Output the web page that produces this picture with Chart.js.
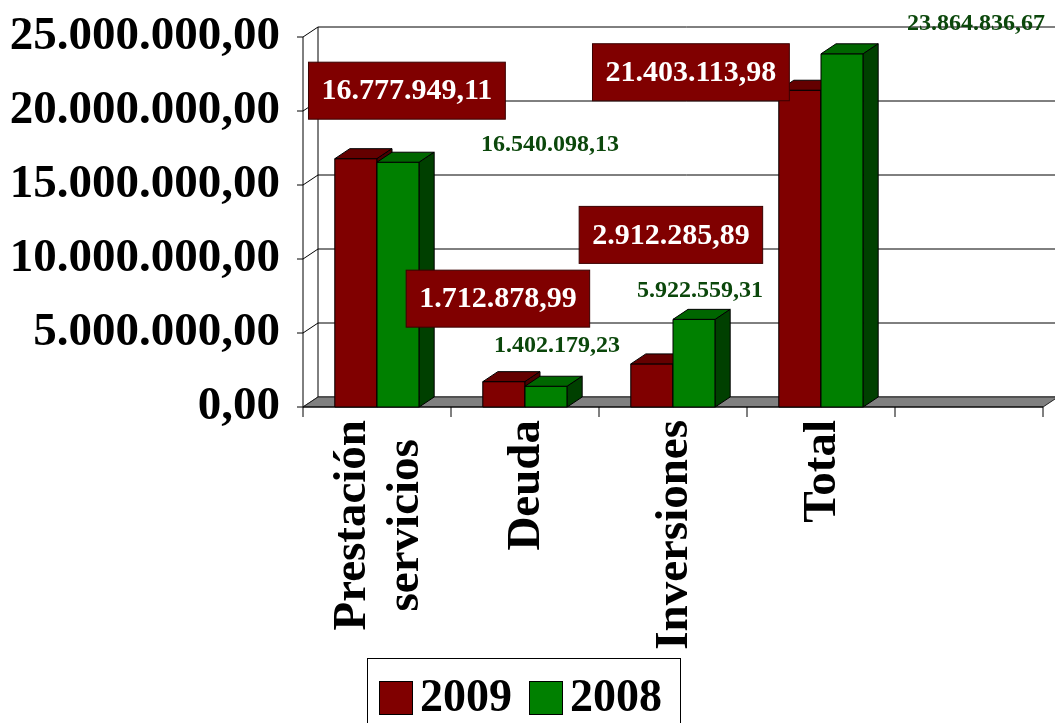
<!DOCTYPE html>
<html>
<head>
<meta charset="utf-8">
<script src="https://cdn.jsdelivr.net/npm/chart.js@4.4.0/dist/chart.umd.min.js"></script>
<style>
  html, body { margin: 0; padding: 0; background: #fff; }
  #wrap { width: 1055px; height: 723px; }
</style>
</head>
<body>
<div id="wrap"><canvas id="chart"></canvas></div>
<script>
// data
const categories = [["Prestación", "servicios"], ["Deuda"], ["Inversiones"], ["Total"], [""]];
const values2009 = [16777949.11, 1712878.99, 2912285.89, 21403113.98, null];
const values2008 = [16540098.13, 1402179.23, 5922559.31, 23864836.67, null];
const seriesNames = ["2009", "2008"];
const yTicks = [0, 5000000, 10000000, 15000000, 20000000, 25000000];

// where each value label sits, relative to the top of its bar
const labelOffsets2009 = [[51, -68], [-6, -83], [19, -129], [-109, -18]];
const labelOffsets2008 = [[152, -17], [11, -40], [6, -29], [134, -30]];

const FONT = "'Liberation Serif', 'Times New Roman', serif";
const DX = 15, DY = -10; // depth of the 3d effect

// 16777949.11 -> "16.777.949,11"
function fmt(v) {
  const parts = v.toFixed(2).split(".");
  return parts[0].replace(/\B(?=(\d{3})+(?!\d))/g, ".") + "," + parts[1];
}

function poly(ctx, pts, fill) {
  ctx.beginPath();
  ctx.moveTo(pts[0][0], pts[0][1]);
  for (let i = 1; i < pts.length; i++) ctx.lineTo(pts[i][0], pts[i][1]);
  ctx.closePath();
  ctx.fillStyle = fill;
  ctx.fill();
  ctx.stroke();
}

const threeD = {
  id: "threeD",
  beforeDatasetsDraw(chart) {
    const { ctx, chartArea: a, scales: { x, y } } = chart;
    ctx.save();
    ctx.lineWidth = 1;
    ctx.strokeStyle = "#000";

    // back wall grid + left wall diagonals + ticks
    yTicks.forEach((v) => {
      const py = y.getPixelForValue(v);
      ctx.beginPath();
      ctx.moveTo(a.left - 6, py);
      ctx.lineTo(a.left, py);
      ctx.lineTo(a.left + DX, py + DY);
      ctx.lineTo(chart.width, py + DY);
      ctx.stroke();
    });
    ctx.beginPath();
    ctx.moveTo(a.left, y.getPixelForValue(yTicks[yTicks.length - 1]));
    ctx.lineTo(a.left, a.bottom);
    ctx.moveTo(a.left + DX, a.top + DY);
    ctx.lineTo(a.left + DX, a.bottom + DY);
    ctx.stroke();

    // floor
    ctx.strokeStyle = "#222";
    poly(ctx, [[a.left, a.bottom], [a.right, a.bottom], [a.right + DX, a.bottom + DY], [a.left + DX, a.bottom + DY]], "#808080");

    // category ticks under the floor
    ctx.strokeStyle = "#000";
    const half = (x.getPixelForValue(1) - x.getPixelForValue(0)) / 2;
    ctx.beginPath();
    ctx.moveTo(a.left, a.bottom);
    ctx.lineTo(a.right, a.bottom);
    for (let i = 0; i <= categories.length; i++) {
      const px = x.getPixelForValue(0) - half + i * half * 2;
      ctx.moveTo(px, a.bottom);
      ctx.lineTo(px, a.bottom + 10);
    }
    ctx.stroke();
    ctx.restore();
  },
  afterDatasetsDraw(chart) {
    const { ctx } = chart;
    ctx.save();
    ctx.lineWidth = 1;
    ctx.strokeStyle = "#000";
    for (let i = 0; i < categories.length; i++) {
      chart.data.datasets.forEach((ds, di) => {
        if (ds.data[i] == null) return;
        const el = chart.getDatasetMeta(di).data[i];
        const { x, y, base, width } = el.getProps(["x", "y", "base", "width"], true);
        const l = x - width / 2, r = x + width / 2;
        poly(ctx, [[l, y], [r, y], [r, base], [l, base]], ds.backgroundColor);
        poly(ctx, [[l, y], [r, y], [r + DX, y + DY], [l + DX, y + DY]], ds.topColor);
        poly(ctx, [[r, y], [r + DX, y + DY], [r + DX, base + DY], [r, base]], ds.sideColor);
      });
    }
    ctx.restore();
  },
  afterDraw(chart) {
    const { ctx, chartArea: a, scales: { x } } = chart;
    ctx.save();

    // category labels, rotated, lines centred on each other
    ctx.font = "bold 47px " + FONT;
    ctx.fillStyle = "#000";
    ctx.textAlign = "center";
    ctx.textBaseline = "middle";
    const lh = 53;
    categories.forEach((lines, i) => {
      const cx = x.getPixelForValue(i);
      const w = Math.max(...lines.map((t) => ctx.measureText(t).width));
      lines.forEach((t, k) => {
        ctx.save();
        ctx.translate(cx + (k - (lines.length - 1) / 2) * lh, a.bottom + 13 + w / 2);
        ctx.rotate(-Math.PI / 2);
        ctx.fillText(t, 0, 2);
        ctx.restore();
      });
    });

    // value labels
    const m2009 = chart.getDatasetMeta(0).data;
    const m2008 = chart.getDatasetMeta(1).data;
    ctx.font = "bold 30px " + FONT;
    values2009.forEach((v, i) => {
      if (v == null) return;
      const px = m2009[i].x + labelOffsets2009[i][0];
      const py = m2009[i].y + labelOffsets2009[i][1];
      const w = ctx.measureText(fmt(v)).width + 26, h = 57;
      ctx.fillStyle = "#800000";
      ctx.strokeStyle = "#3a0000";
      ctx.lineWidth = 1;
      ctx.fillRect(px - w / 2, py - h / 2, w, h);
      ctx.strokeRect(px - w / 2, py - h / 2, w, h);
      ctx.fillStyle = "#fff";
      ctx.fillText(fmt(v), px, py + 1);
    });
    ctx.font = "bold 24px " + FONT;
    ctx.fillStyle = "#0b470b";
    values2008.forEach((v, i) => {
      if (v == null) return;
      ctx.fillText(fmt(v), m2008[i].x + labelOffsets2008[i][0], m2008[i].y + labelOffsets2008[i][1]);
    });

    // legend
    const lx = 367, ly = 658;
    ctx.fillStyle = "#fff";
    ctx.strokeStyle = "#000";
    ctx.fillRect(lx, ly, 313, 80);
    ctx.strokeRect(lx + 0.5, ly + 0.5, 313, 80);
    ctx.font = "bold 46px " + FONT;
    ctx.textAlign = "left";
    let cur = lx + 12;
    chart.data.datasets.forEach((ds) => {
      ctx.fillStyle = ds.backgroundColor;
      ctx.fillRect(cur, ly + 23, 33, 33);
      ctx.strokeRect(cur + 0.5, ly + 23.5, 33, 33);
      ctx.fillStyle = "#000";
      ctx.fillText(ds.label, cur + 41, ly + 41);
      cur += 41 + ctx.measureText(ds.label).width + 17;
    });
    ctx.restore();
  },
};

new Chart(document.getElementById("chart"), {
  type: "bar",
  data: {
    labels: categories,
    datasets: [
      { label: seriesNames[0], data: values2009, backgroundColor: "#800000", topColor: "#640000", sideColor: "#4a0000" },
      { label: seriesNames[1], data: values2008, backgroundColor: "#008000", topColor: "#006600", sideColor: "#004000" },
    ],
  },
  options: {
    responsive: true,
    maintainAspectRatio: false,
    animation: false,
    datasets: { bar: { categoryPercentage: 0.57, barPercentage: 1, borderWidth: 0 } },
    layout: { padding: { top: 37, right: 12, bottom: 316, left: 0 } },
    plugins: { legend: { display: false }, tooltip: { enabled: false } },
    scales: {
      x: { display: false },
      y: {
        min: 0,
        max: 25000000,
        afterFit: (scale) => {
          scale.width = 303;
          scale.paddingTop = 0;
          scale.paddingBottom = 0;
        },
        afterBuildTicks: (scale) => { scale.ticks = yTicks.map((v) => ({ value: v })); },
        grid: { display: false, drawTicks: false },
        border: { display: false },
        ticks: {
          padding: 23,
          autoSkip: false,
          color: "#000",
          font: { family: FONT, size: 47, weight: "bold" },
          callback: (v) => fmt(v),
        },
      },
    },
  },
  plugins: [threeD],
});
</script>
</body>
</html>
